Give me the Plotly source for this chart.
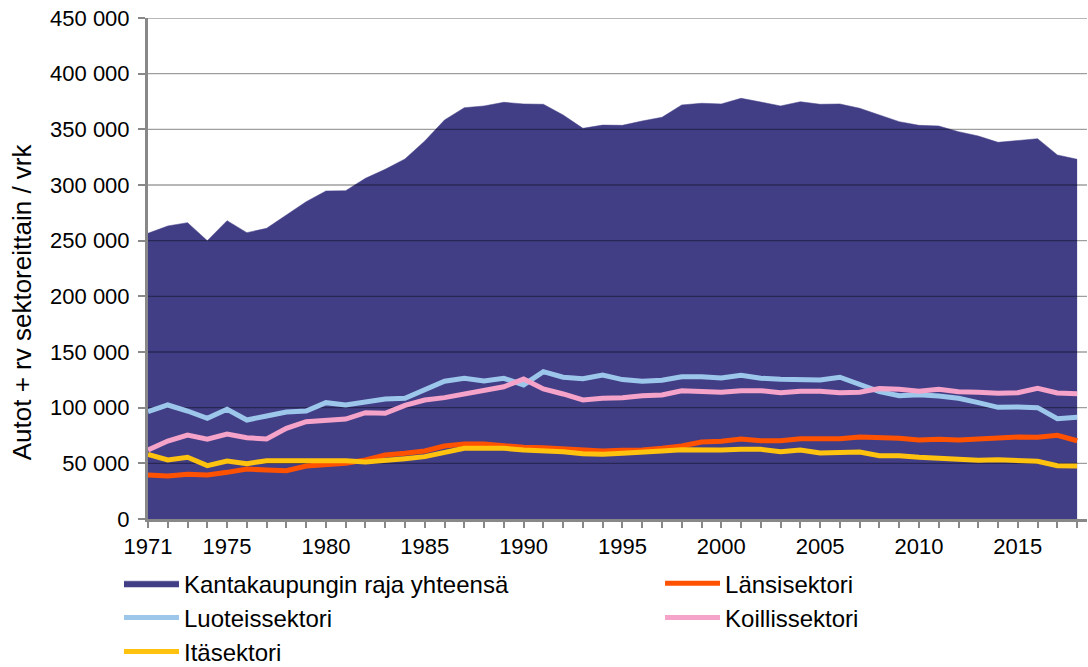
import plotly.graph_objects as go

years = list(range(1971, 2019))
labeled_years = [1971, 1975, 1980, 1985, 1990, 1995, 2000, 2005, 2010, 2015]

total = [256600, 263200, 266200, 250000, 268000, 257200, 261100, 273000, 285000, 294600,
         294900, 306000, 314100, 323400, 339500, 358400, 369400, 371000, 374300, 372800,
         372500, 362900, 350900, 353800, 353600, 357500, 360800, 371900, 373400, 372800,
         377900, 374500, 371000, 374800, 372500, 372800, 368900, 362900, 356900, 353600,
         353000, 347900, 344000, 338300, 339800, 341600, 327000, 323100]
lansi = [39500, 38600, 40100, 39500, 41900, 44900, 44000, 43400, 47600, 49100,
         50000, 53000, 57500, 59000, 61100, 65600, 67400, 67400, 65600, 64400,
         64100, 63200, 62000, 61100, 61700, 62000, 63500, 65600, 69200, 69800,
         71900, 70300, 70300, 72100, 72100, 72100, 73600, 73400, 72500, 71000,
         71600, 71000, 71900, 71900, 73600, 73400, 75200, 70300]
luoteis = [96400, 102400, 97000, 90400, 98500, 88900, 92500, 96100, 97000, 104500,
           102400, 104800, 107800, 108400, 115900, 123700, 126400, 124000, 126400, 120400,
           132300, 127300, 126000, 129300, 125200, 123700, 124600, 127800, 127800, 126600,
           129000, 126400, 125500, 125500, 124800, 127300, 121000, 114400, 110800, 111700,
           110500, 108400, 104500, 100300, 100600, 100000, 90100, 91300]
koillis = [62000, 70000, 75400, 71600, 76300, 73000, 71900, 81400, 87400, 88900,
           89800, 95500, 94900, 102100, 106900, 109000, 112300, 115200, 118800, 125700,
           116800, 112300, 106900, 108400, 109000, 110800, 111400, 115200, 114400, 113800,
           115200, 115200, 113500, 114700, 114700, 113500, 113800, 117100, 116500, 114700,
           116500, 114400, 113800, 112900, 113500, 117400, 113200, 112600]
ita = [58100, 53000, 55400, 47900, 52100, 49700, 52400, 52400, 53300, 53000,
       52400, 51200, 52400, 54200, 56000, 59900, 63500, 63500, 63500, 62000,
       61300, 60400, 58700, 58100, 59000, 59600, 61100, 62300, 62000, 62000,
       62600, 62600, 60400, 62000, 59300, 59300, 60200, 56900, 56900, 55400,
       54500, 53900, 52700, 53300, 52400, 51800, 47900, 47600]

y_ticks = list(range(0, 450001, 50000))
x_range = [1971, 2018.5]

FONT = "Liberation Sans, Arial, sans-serif"
LEG_FONT = dict(family=FONT, size=24, color="#000000")

fig = go.Figure()

fig.add_trace(go.Scatter(
    x=years, y=total, name="Kantakaupungin raja yhteensä",
    mode="lines", fill="tozeroy", fillcolor="#423E86",
    line=dict(color="#423E86", width=0.5), hoverinfo="x+y",
    legend="legend", legendgroup="a"))

# gridlines drawn above the area, below the sector lines
gx, gy = [], []
for t in y_ticks[1:]:
    gx += [x_range[0], x_range[1], None]
    gy += [t, t, None]
fig.add_trace(go.Scatter(x=gx, y=gy, mode="lines", showlegend=False, hoverinfo="skip",
                         line=dict(color="rgba(0,0,0,0.38)", width=1.4)))

series = [
    ("Länsisektori", lansi, "#FF5200", "legend2"),
    ("Luoteissektori", luoteis, "#9CC7EB", "legend"),
    ("Koillissektori", koillis, "#F5A3C8", "legend2"),
    ("Itäsektori", ita, "#FFC20E", "legend"),
]
for i, (name, vals, col, leg) in enumerate(series):
    fig.add_trace(go.Scatter(x=years, y=vals, name=name, mode="lines",
                             line=dict(color=col, width=5),
                             legend=leg, legendgroup="g%d" % i))

leg_common = dict(orientation="v", xanchor="left", yanchor="top", y=-0.084,
                  font=LEG_FONT, bgcolor="rgba(0,0,0,0)", tracegroupgap=0,
                  itemwidth=55)

fig.update_layout(
    width=1088, height=667,
    margin=dict(l=148, r=1, t=18, b=148, autoexpand=False),
    paper_bgcolor="white", plot_bgcolor="white",
    font=dict(family=FONT, size=22, color="#000000"),
    separators=", ",
    showlegend=True,
    legend=dict(x=-0.0309, **leg_common),
    legend2=dict(x=0.5453, **leg_common),
    xaxis=dict(range=x_range, tickmode="array", tickvals=years,
               ticktext=[str(y) if y in labeled_years else "" for y in years],
               ticks="outside", ticklen=6, tickcolor="#888888", tickwidth=2,
               showline=True, linecolor="#888888", linewidth=3,
               showgrid=False, zeroline=False,
               tickfont=dict(family=FONT, size=22, color="#000000")),
    yaxis=dict(range=[0, 450000], tickmode="array", tickvals=y_ticks,
               tickformat=",d",
               ticks="outside", ticklen=7, tickcolor="#888888", tickwidth=2,
               ticklabelstandoff=4,
               showline=True, linecolor="#888888", linewidth=3,
               showgrid=False, zeroline=False,
               tickfont=dict(family=FONT, size=22, color="#000000")),
    annotations=[dict(text="Autot + rv sektoreittain / vrk", textangle=-90,
                      xref="paper", yref="paper", x=-0.134, y=0.433,
                      xanchor="center", yanchor="middle", showarrow=False,
                      font=dict(family=FONT, size=26, color="#000000"))],
)

fig.write_html("out.html", config={"displayModeBar": False},
               post_script="document.body.style.margin='0';")
